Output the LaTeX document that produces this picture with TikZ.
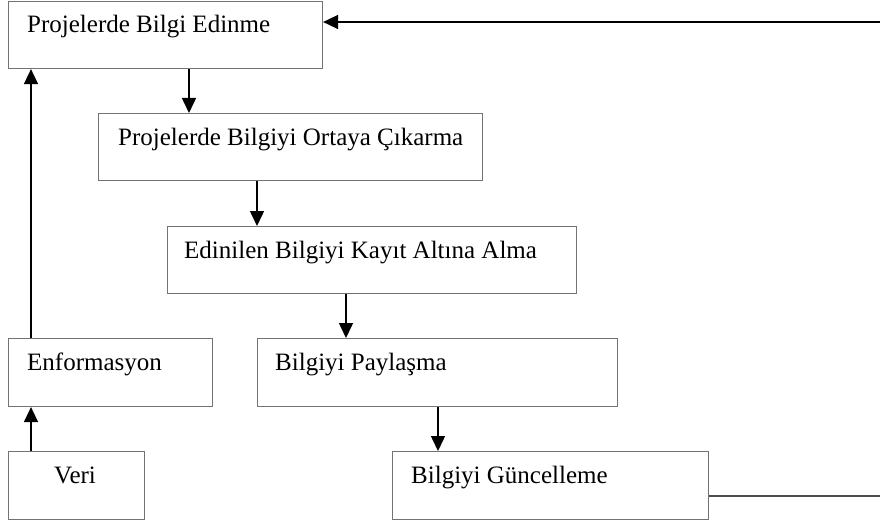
\documentclass[tikz,border=0pt]{standalone}
\usepackage{fontspec}
\setmainfont{Liberation Serif}
\usetikzlibrary{arrows.meta}

\tikzset{
  stepbox/.style={draw=black!55, line width=1.1pt, rectangle, inner sep=0pt, anchor=north west},
  boxtext/.style={anchor=base west, inner sep=0pt, font=\fontsize{25}{30}\selectfont},
  arr/.style={line width=1.5pt, -{Triangle[width=14pt,length=15pt]}},
  plain/.style={line width=1.1pt, draw=black!70}
}

\begin{document}
\begin{tikzpicture}[x=1pt,y=-1pt]
\useasboundingbox (0,0) rectangle (880,524);

% boxes
\node[stepbox, minimum width=314pt, minimum height=67pt] (b1) at (8,1) {};
\node[stepbox, minimum width=384pt, minimum height=67pt] (b2) at (98,113) {};
\node[stepbox, minimum width=409pt, minimum height=67pt] (b3) at (167,226) {};
\node[stepbox, minimum width=204pt, minimum height=68pt] (enf) at (8,338) {};
\node[stepbox, minimum width=360pt, minimum height=68pt] (pay) at (257,338) {};
\node[stepbox, minimum width=136pt, minimum height=68pt] (veri) at (8,451) {};
\node[stepbox, minimum width=316pt, minimum height=68pt] (gun) at (392,451) {};

% texts
\node[boxtext] (t1) at (27,33) {Projelerde Bilgi Edinme};
\node[boxtext] (t2) at (118,145) {Projelerde Bilgiyi Ortaya Çıkarma};
\node[boxtext] (t3) at (184,258) {Edinilen Bilgiyi Kayıt Altına Alma};
\node[boxtext] (tenf) at (27,370) {Enformasyon};
\node[boxtext] (tpay) at (275,370) {Bilgiyi Paylaşma};
\node[boxtext] (tveri) at (54,483) {Veri};
\node[boxtext] (tgun) at (411,483) {Bilgiyi Güncelleme};

% downward flow
\draw[arr] (189,0 |- b1.south) -- (189,0 |- b2.north);
\draw[arr] (257,0 |- b2.south) -- (257,0 |- b3.north);
\draw[arr] (346,0 |- b3.south) -- (346,0 |- pay.north);
\draw[arr] (438,0 |- pay.south) -- (438,0 |- gun.north);

% upward flow on the left
\draw[arr] (31,0 |- veri.north) -- (31,0 |- enf.south);
\draw[arr] (31,0 |- enf.north) -- (31,0 |- b1.south);

% feedback lines on the right
\coordinate (fbin) at (880,22);
\coordinate (fbout) at (880,496);
\draw[arr] (fbin) -- (b1.east |- fbin);
\draw[plain] (gun.east |- fbout) -- (fbout);
\end{tikzpicture}
\end{document}
